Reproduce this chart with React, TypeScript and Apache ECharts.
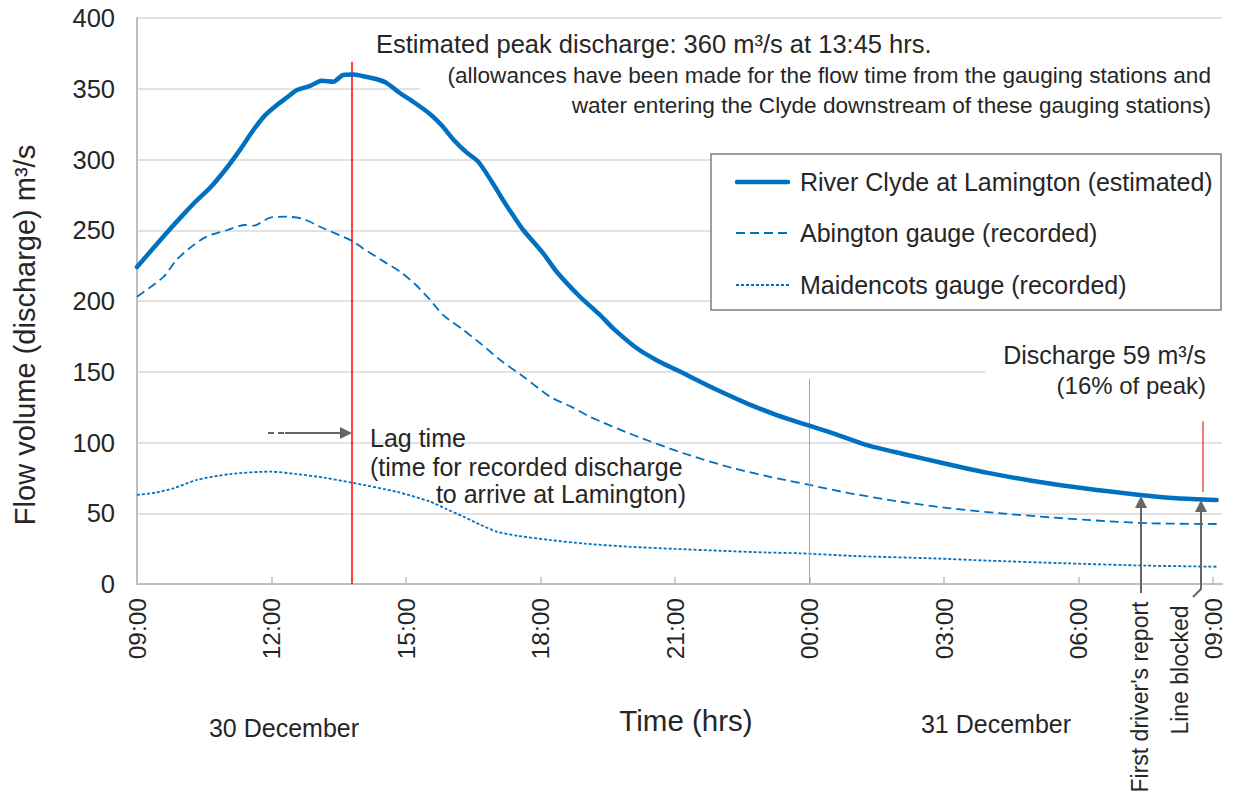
import React, { useEffect, useRef } from "react";
import * as echarts from "echarts";

// hours after 09:00 on 30 December
const clydeHours = [0, 0.6, 1.0, 1.33, 1.63, 2.0, 2.3, 2.6, 2.85, 3.12, 3.35, 3.56, 3.86, 4.12, 4.38, 4.6, 4.83, 5.1, 5.35, 5.57, 5.87, 6.16, 6.54, 6.8, 7.06, 7.35, 7.61, 7.9, 8.17, 8.4, 8.62, 9.06, 9.36, 9.88, 10.33, 10.62, 11.15, 11.6, 12.04, 12.86, 13.6, 14.27, 14.94, 15.53, 16.28, 17.09, 17.99, 18.95, 19.99, 21.11, 22.37, 23.19, 24.08];
const clydeFlow = [224, 246, 260, 271, 280, 294, 307, 321, 331, 338.5, 344, 349, 352, 355.7, 355, 359.7, 360, 358.5, 356.7, 354, 346.8, 340.8, 332, 324, 314, 305, 298.5, 285, 271, 260, 250, 233.7, 220.7, 203, 190, 180.7, 166.6, 158, 151.2, 138.3, 127.7, 119.4, 112.4, 106.5, 98.2, 91.9, 85.3, 78.7, 72.8, 67.6, 62.9, 60.6, 59.4];

const abingtonHours = [0, 0.59, 0.88, 1.2, 1.55, 2.0, 2.41, 2.6, 2.97, 3.34, 3.71, 4.08, 4.79, 5.05, 5.5, 5.87, 6.2, 6.54, 6.83, 7.28, 7.7, 8.1, 8.62, 9.21, 9.7, 10.1, 11.07, 12.19, 13.3, 14.27, 15.0, 15.9, 17.02, 18.13, 19.25, 20.37, 21.48, 22.6, 24.08];
const abingtonFlow = [203, 217, 229, 238, 245.5, 250, 253.7, 253.2, 259, 259.6, 258, 252.5, 242.6, 237, 228, 220.7, 212, 200.7, 190, 179.5, 169, 158.3, 146.5, 132.4, 125, 118.2, 105.3, 92.4, 81.8, 74.7, 70, 64.1, 58.2, 53.5, 50, 47.1, 44.7, 42.9, 42.4];

const maidencotsHours = [0, 0.4, 0.81, 1.33, 2.07, 2.97, 3.56, 4.2, 4.79, 5.79, 6.54, 6.9, 7.28, 7.65, 8.02, 8.5, 9.21, 10.0, 11.0, 12.0, 13.0, 14.0, 14.79, 16.0, 17.76, 19.0, 20.74, 22.5, 24.08];
const maidencotsFlow = [63, 64.5, 67.6, 73.5, 77.7, 79.4, 77.7, 75, 71.6, 65.2, 58.2, 53, 47.6, 42, 37, 34, 31.1, 28.5, 26.3, 24.8, 23.5, 22.3, 21.7, 19.8, 18.1, 16.5, 14.6, 13, 12.2];

const tickHours = [0, 3, 6, 9, 12, 15, 18, 21, 24];
const seriesNames = [
  "River Clyde at Lamington (estimated)",
  "Abington gauge (recorded)",
  "Maidencots gauge (recorded)",
];
const peakHour = 4.78; // 13:45
const peakLineTop = 369;
const midnightHour = 15;
const midnightLineTop = 145;
const blockedHour = 23.78;
const blockedLine = [115, 65];

const BLUE = "#0070c0";
const TEXT = "#262626";
const FONT = '"Liberation Sans", Arial, sans-serif';

function zip(xs: number[], ys: number[]) {
  return xs.map((x, i) => [x, ys[i]]);
}

function txt(text: string, x: number, y: number, size: number, align = "left", extra: any = {}) {
  return {
    type: "text",
    z: 20,
    ...extra,
    x,
    y,
    style: {
      text,
      fill: TEXT,
      font: `${size}px ${FONT}`,
      textAlign: align,
      textVerticalAlign: "middle",
    },
  };
}

export default function App() {
  const ref = useRef<HTMLDivElement>(null);
  useEffect(() => {
    if (!ref.current) return;
    const chart = echarts.init(ref.current, null, { renderer: "svg" });
    const gray = "#666666";
    const graphic: any[] = [
      { type: "rect", z: 1, shape: { x: 420, y: 58, width: 802, height: 62 }, style: { fill: "#ffffff" } },
      { type: "rect", z: 1, shape: { x: 985, y: 335, width: 237, height: 65 }, style: { fill: "#ffffff" } },
      txt("Estimated peak discharge: 360 m³/s at 13:45 hrs.", 376, 44, 25.5),
      txt("(allowances have been made for the flow time from the gauging stations and", 1211, 75, 22.6, "right"),
      txt("water entering the Clyde downstream of these gauging stations)", 1211, 105, 22.6, "right"),
      txt("Discharge 59 m³/s", 1206, 355, 25, "right"),
      txt("(16% of peak)", 1206, 385, 24, "right"),
      txt("Lag time", 370, 438, 25),
      txt("(time for recorded discharge", 370, 467, 25),
      txt("to arrive at Lamington)", 686, 494, 25, "right"),
      txt("Flow volume (discharge) m³/s", 25, 335, 29, "center", { rotation: Math.PI / 2 }),
      txt("Time (hrs)", 686, 720, 29.5, "center"),
      txt("30 December", 284, 728, 25, "center"),
      txt("31 December", 996, 724, 25, "center"),
      txt("First driver's report", 1140, 697, 23, "center", { rotation: Math.PI / 2 }),
      txt("Line blocked", 1180, 670, 23, "center", { rotation: Math.PI / 2 }),
      // lag arrow
      { type: "line", z: 20, shape: { x1: 268, y1: 433, x2: 285, y2: 433 }, style: { stroke: gray, lineWidth: 2, lineDash: [6, 4] } },
      { type: "line", z: 20, shape: { x1: 285, y1: 433, x2: 342, y2: 433 }, style: { stroke: gray, lineWidth: 2 } },
      { type: "polygon", z: 20, shape: { points: [[352, 433], [340, 427], [340, 439]] }, style: { fill: gray } },
      // first driver's report arrow
      { type: "line", z: 20, shape: { x1: 1141, y1: 593, x2: 1141, y2: 505 }, style: { stroke: gray, lineWidth: 2 } },
      { type: "polygon", z: 20, shape: { points: [[1141, 496], [1135, 508], [1147, 508]] }, style: { fill: gray } },
      // line blocked arrow
      { type: "polyline", z: 20, shape: { points: [[1193, 597], [1201, 589], [1201, 510]] }, style: { stroke: gray, lineWidth: 2, fill: null } },
      { type: "polygon", z: 20, shape: { points: [[1201, 500], [1195, 512], [1207, 512]] }, style: { fill: gray } },
      // legend
      { type: "rect", z: 15, shape: { x: 711, y: 154, width: 510, height: 156 }, style: { fill: "#ffffff", stroke: "#7f7f7f", lineWidth: 1.5 } },
      { type: "line", z: 16, shape: { x1: 737, y1: 182, x2: 788, y2: 182 }, style: { stroke: BLUE, lineWidth: 4.5, lineCap: "round" } },
      { type: "line", z: 16, shape: { x1: 736, y1: 233, x2: 789, y2: 233 }, style: { stroke: BLUE, lineWidth: 1.8, lineDash: [9, 5] } },
      { type: "line", z: 16, shape: { x1: 736, y1: 285, x2: 789, y2: 285 }, style: { stroke: BLUE, lineWidth: 1.8, lineDash: [3, 2] } },
      txt(seriesNames[0], 800, 182, 25),
      txt(seriesNames[1], 800, 233, 25),
      txt(seriesNames[2], 800, 285, 25),
    ];

    chart.setOption({
      animation: false,
      textStyle: { fontFamily: FONT },
      grid: { left: 137, right: 12, top: 18, bottom: 209 },
      xAxis: {
        type: "value",
        min: 0,
        max: 24.2,
        interval: 3,
        axisLine: { lineStyle: { color: "#bfbfbf", width: 2 } },
        axisTick: { inside: true, length: 7, lineStyle: { color: "#bfbfbf", width: 1.5 }, customValues: tickHours },
        axisLabel: {
          rotate: 90,
          margin: 14,
          fontSize: 24.5,
          color: TEXT,
          fontFamily: FONT,
          customValues: tickHours,
          formatter: (v: number) => String((9 + Math.round(v)) % 24).padStart(2, "0") + ":00",
        },
        splitLine: { show: false },
      },
      yAxis: {
        type: "value",
        min: 0,
        max: 400,
        interval: 50,
        axisLine: { show: true, lineStyle: { color: "#bfbfbf", width: 2 } },
        axisTick: { show: false },
        axisLabel: { fontSize: 25.5, color: TEXT, margin: 22, fontFamily: FONT },
        splitLine: { lineStyle: { color: "#d9d9d9", width: 1.5 } },
      },
      graphic,
      series: [
        {
          name: seriesNames[0],
          type: "line",
          z: 5,
          data: zip(clydeHours, clydeFlow),
          showSymbol: false,
          symbol: "none",
          smooth: 0.25,
          lineStyle: { color: BLUE, width: 4.5, cap: "round" },
          markLine: {
            silent: true,
            symbol: "none",
            label: { show: false },
            data: [
              [
                { coord: [peakHour, peakLineTop], lineStyle: { color: "#ff0000", width: 1.5, type: "solid" } },
                { coord: [peakHour, 0] },
              ],
              [
                { coord: [midnightHour, midnightLineTop], lineStyle: { color: "#a6a6a6", width: 1, type: "solid" } },
                { coord: [midnightHour, 0] },
              ],
              [
                { coord: [blockedHour, blockedLine[0]], lineStyle: { color: "#f05050", width: 1.5, type: "solid" } },
                { coord: [blockedHour, blockedLine[1]] },
              ],
            ],
          },
        },
        {
          name: seriesNames[1],
          type: "line",
          z: 4,
          data: zip(abingtonHours, abingtonFlow),
          showSymbol: false,
          symbol: "none",
          smooth: 0.25,
          lineStyle: { color: BLUE, width: 1.8, type: [9, 5] },
        },
        {
          name: seriesNames[2],
          type: "line",
          z: 4,
          data: zip(maidencotsHours, maidencotsFlow),
          showSymbol: false,
          symbol: "none",
          smooth: 0.25,
          lineStyle: { color: BLUE, width: 1.8, type: [3, 2] },
        },
      ],
    });
    return () => chart.dispose();
  }, []);
  return (
    <div
      ref={ref}
      style={{ position: "fixed", left: 0, top: 0, width: 1234, height: 793, background: "#ffffff" }}
    />
  );
}
